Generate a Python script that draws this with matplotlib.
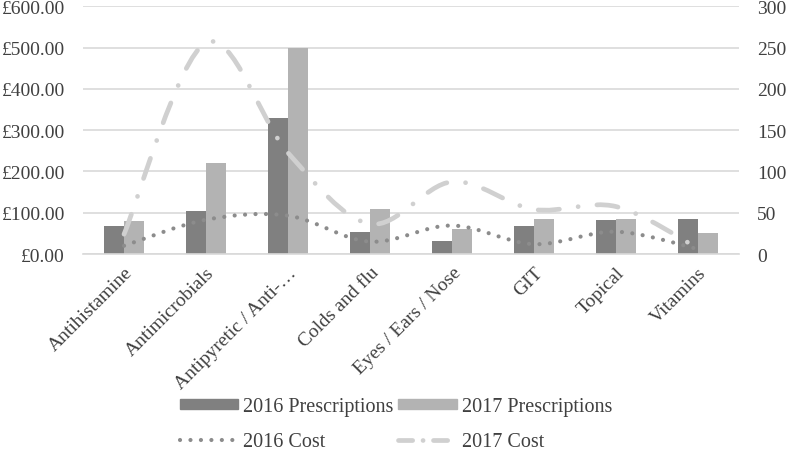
import matplotlib.pyplot as plt
from matplotlib.path import Path
from matplotlib.patches import PathPatch
from matplotlib.lines import Line2D
from matplotlib.patches import Patch
import numpy as np

plt.rcParams['font.family'] = ['Liberation Serif', 'DejaVu Serif']

# Datos
categories = ["Antihistamine", "Antimicrobials", "Antipyretic / Anti-…", "Colds and flu",
              "Eyes / Ears / Nose", "GIT", "Topical", "Vitamins"]
presc_2016 = [34.5, 52, 164.5, 27, 16, 34.5, 41, 43]
presc_2017 = [40.5, 110, 250, 55, 30, 43, 42.5, 25]
cost_2016 = [20, 83, 93, 30, 69, 24, 54, 12]
cost_2017 = [48, 512, 245, 73, 175, 108, 115, 14]

left_ticks = [0, 100, 200, 300, 400, 500, 600]
right_ticks = [0, 50, 100, 150, 200, 250, 300]

c_bar16 = '#808080'
c_bar17 = '#b3b3b3'
c_line16 = '#8c8c8c'
c_line17 = '#d0d0d0'
c_grid = '#d9d9d9'
c_text = '#404040'


# Curva suavizada tipo Excel (Bezier por Catmull-Rom)
def smooth_path(xs, ys):
    n = len(xs)
    verts = [(xs[0], ys[0])]
    codes = [Path.MOVETO]
    for i in range(n - 1):
        a = i - 1 if i > 0 else i
        d = i + 2 if i + 2 < n else i + 1
        c1 = (xs[i] + (xs[i + 1] - xs[a]) / 6, ys[i] + (ys[i + 1] - ys[a]) / 6)
        c2 = (xs[i + 1] - (xs[d] - xs[i]) / 6, ys[i + 1] - (ys[d] - ys[i]) / 6)
        verts += [c1, c2, (xs[i + 1], ys[i + 1])]
        codes += [Path.CURVE4] * 3
    return Path(verts, codes)


fig = plt.figure(figsize=(7.87, 4.52), dpi=100)
ax = fig.add_axes([0.1055, 0.4358, 0.8335, 0.548])
ax2 = ax.twinx()

x = np.arange(len(categories))
w = 0.24

# Barras (eje derecho)
ax2.bar(x - w / 2, presc_2016, w, color=c_bar16, zorder=2)
ax2.bar(x + w / 2, presc_2017, w, color=c_bar17, zorder=2)
ax2.set_ylim(0, 300)
ax2.set_yticks(right_ticks)
ax2.set_axisbelow(True)
ax2.grid(axis='y', color=c_grid, linewidth=1.2)

# Líneas de costo (eje izquierdo)
dot16 = (0, (0.01, 2.5))
dash17 = (0, (4.5, 4.0, 0.01, 4.0))
p16 = PathPatch(smooth_path(x, cost_2016), fill=False, edgecolor=c_line16,
                linewidth=3.0, linestyle=dot16, capstyle='round')
p17 = PathPatch(smooth_path(x, cost_2017), fill=False, edgecolor=c_line17,
                linewidth=3.4, linestyle=dash17, capstyle='round')
ax.add_patch(p17)
ax.add_patch(p16)
ax.set_ylim(0, 600)
ax.set_yticks(left_ticks)
ax.set_yticklabels([f"£{v:.2f}" for v in left_ticks])
ax.set_xlim(-0.5, len(categories) - 0.5)
ax.set_xticks(x)
ax.set_xticklabels(categories, rotation=45, ha='right', va='top', rotation_mode='anchor',
                   color=c_text)

ax.set_zorder(ax2.get_zorder() + 1)
ax.patch.set_visible(False)

for a in (ax, ax2):
    for s in a.spines.values():
        s.set_visible(False)
    a.tick_params(length=0, labelsize=14, labelcolor=c_text)
ax.spines['bottom'].set_visible(True)
ax.spines['bottom'].set_color(c_grid)
ax.spines['bottom'].set_linewidth(1.2)
ax.tick_params(axis='y', pad=13)
ax2.tick_params(axis='y', pad=13)
ax.tick_params(axis='x', pad=7, labelsize=14)

handles = [Patch(color=c_bar16),
           Line2D([0], [0], color=c_line16, linewidth=3.0, linestyle=dot16, dash_capstyle='round'),
           Patch(color=c_bar17),
           Line2D([0], [0], color=c_line17, linewidth=3.4, linestyle=(0, (3.0, 2.2, 0.01, 2.2)),
                  dash_capstyle='round')]
labels = ["2016 Prescriptions", "2016 Cost", "2017 Prescriptions", "2017 Cost"]
fig.legend(handles, labels, loc='center', bbox_to_anchor=(0.503, 0.06), ncol=2,
           frameon=False, fontsize=14.5, handlelength=2.9, handleheight=0.4,
           handletextpad=0.25, columnspacing=0.25, labelspacing=0.8, labelcolor=c_text,
           borderpad=0.2)

fig.savefig("out.png", dpi=100)
